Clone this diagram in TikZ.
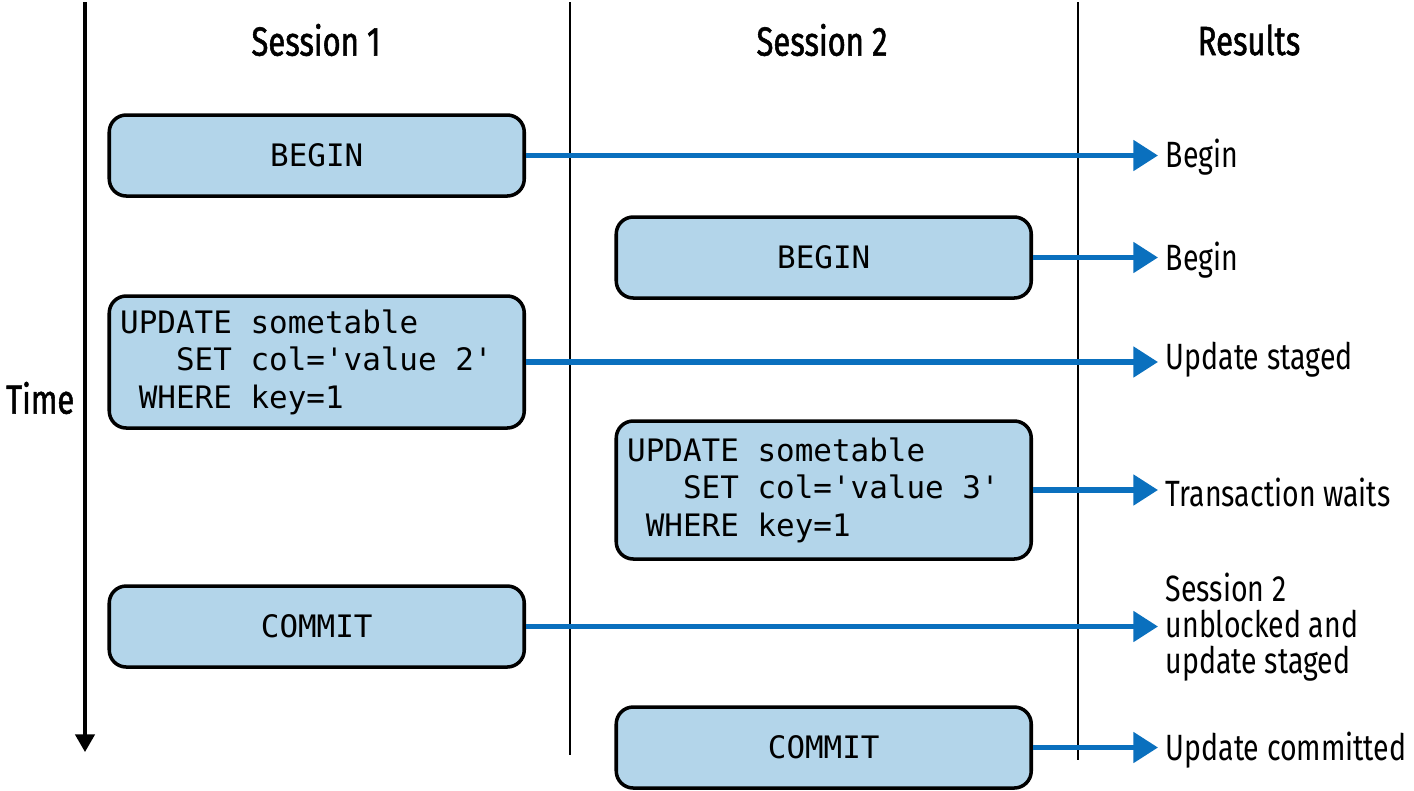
\documentclass[tikz,border=0pt]{standalone}
\usepackage{fontspec}
\setmainfont{Fira Sans}[FakeStretch=0.78]
\newfontfamily\headfont{Fira Sans}[FakeStretch=0.76, FakeBold=1.3]
\setmonofont{DejaVu Sans Mono}
\usetikzlibrary{positioning,arrows.meta}

\definecolor{stmtfill}{RGB}{179,213,234}
\definecolor{flowblue}{RGB}{10,112,190}

\newcommand{\stmtfont}{\ttfamily\fontsize{8.8}{10.7}\selectfont\fontdimen2\font=0.602em\relax}

\tikzset{
  stmt/.style={draw=black, line width=1pt, fill=stmtfill, rounded corners=0.17cm,
    minimum width=4.15cm, minimum height=0.81cm, inner xsep=0.11cm, font=\stmtfont},
  sqlbox/.style={stmt, align=flush left, text width=3.93cm},
  result/.style={anchor=west, inner xsep=0.07cm, inner ysep=0pt, align=left,
    font=\fontsize{10.4}{10.3}\selectfont},
  header/.style={font=\headfont\fontsize{11.6}{13}\selectfont},
  lane/.style={line width=0.6pt},
  flow/.style={draw=flowblue, line width=1.5pt, -{Triangle[length=7pt,width=8.5pt]}},
}

\begin{document}
\begin{tikzpicture}
  \useasboundingbox (0,0) rectangle (14.14,-7.90);

  % time axis and lanes
  \coordinate (t0) at (0.85,-0.02);
  \coordinate (t1) at (0.85,-7.52);
  \coordinate (l1a) at (5.70,-0.02);
  \coordinate (l1b) at (5.70,-7.55);
  \coordinate (l2a) at (10.78,-0.02);
  \coordinate (l2b) at (10.78,-7.60);
  \draw[line width=0.9pt, -{Triangle[length=5pt,width=5.5pt]}] (t0) -- (t1);
  \draw[lane] (l1a) -- (l1b);
  \draw[lane] (l2a) -- (l2b);

  \node[header] (s1) at (3.16,-0.40) {Session 1};
  \node[header] (s2) at (8.22,-0.40) {Session 2};
  \node[header] (res) at (12.49,-0.40) {Results};
  \node[header, anchor=east, inner sep=0pt] (time) at (0.75,-3.98) {Time};

  % statements
  \node[stmt, anchor=east] (b1) at (5.26,-1.555) {BEGIN};
  \node[stmt, anchor=east] (b2) at (10.33,-2.575) {BEGIN};
  \node[sqlbox, anchor=east, minimum height=1.32cm] (u1) at (5.26,-3.62)
    {UPDATE sometable\\~~~SET col='value 2'\\~WHERE key=1};
  \node[sqlbox, anchor=east, minimum height=1.38cm] (u2) at (10.33,-4.90)
    {UPDATE sometable\\~~~SET col='value 3'\\~WHERE key=1};
  \node[stmt, anchor=east] (c1) at (5.26,-6.265) {COMMIT};
  \node[stmt, anchor=east] (c2) at (10.33,-7.475) {COMMIT};

  % results
  \node[result] (r1) at (11.58,-1.57) {Begin};
  \node[result] (r2) at (11.58,-2.60) {Begin};
  \node[result] (r3) at (11.58,-3.60) {Update staged};
  \node[result] (r4) at (11.58,-4.92) {Transaction waits};
  \node[result] (r5) at (11.58,-6.27) {Session 2\\unblocked and\\update staged};
  \node[result] (r6) at (11.58,-7.50) {Update committed};

  \foreach \a/\b in {b1/r1,b2/r2,u1/r3,u2/r4,c1/r5,c2/r6}
    \draw[flow] (\a.east) -- (\a.east -| \b.west);
\end{tikzpicture}
\end{document}
